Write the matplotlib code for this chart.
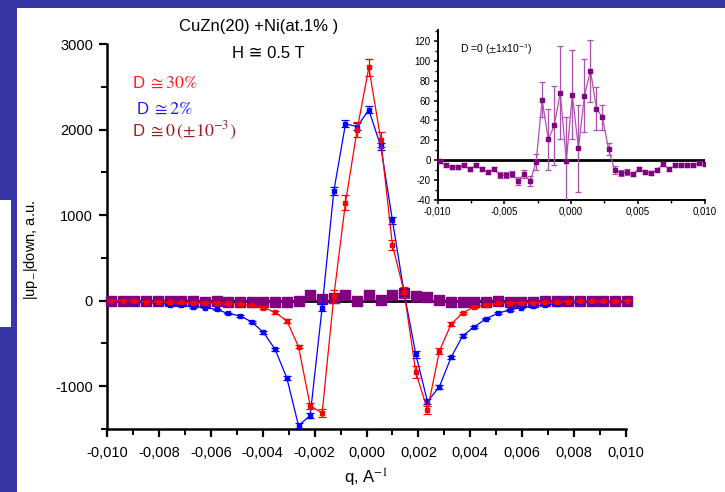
import matplotlib
matplotlib.use('Agg')
import matplotlib.pyplot as plt
from matplotlib.ticker import MultipleLocator, FuncFormatter
from matplotlib.patches import Rectangle

plt.rcParams['font.family'] = ['Liberation Sans', 'DejaVu Sans']
plt.rcParams['mathtext.fontset'] = 'stix'
plt.rcParams['axes.unicode_minus'] = False

# ---------------- data ----------------
q = [-0.00985, -0.00940, -0.00895, -0.00849, -0.00804, -0.00759, -0.00714, -0.00669,
     -0.00623, -0.00578, -0.00533, -0.00488, -0.00443, -0.00397, -0.00352, -0.00307,
     -0.00262, -0.00217, -0.00171, -0.00126, -0.00081, -0.00036, 0.00009, 0.00055,
     0.00100, 0.00145, 0.00190, 0.00235, 0.00281, 0.00326, 0.00371, 0.00416,
     0.00461, 0.00507, 0.00552, 0.00597, 0.00642, 0.00687, 0.00733, 0.00778,
     0.00823, 0.00868, 0.00913, 0.00959, 0.01004]

red_vals = [-2, -2, -6, -14, -14, -18, -18, -22, -26, -26, -33, -37, -56, -80, -138, -235,
            -538, -1227, -1315, 50, 1145, 2000, 2726, 1883, 647, 103, -837, -1277, -589, -274,
            -142, -72, -52, -33, -26, -26, -26, -18, -18, -14, -6, -6, -6, -6, -2]
red_err = [6, 6, 6, 6, 6, 6, 6, 6, 6, 6, 8, 8, 10, 15, 20, 25,
           20, 35, 45, 75, 90, 90, 100, 90, 60, 60, 70, 50, 30, 20,
           15, 10, 8, 8, 6, 6, 6, 6, 6, 6, 6, 6, 6, 6, 6]

blue_vals = [-5, -8, -12, -18, -30, -45, -56, -72, -80, -103, -150, -177, -247, -371, -570, -904,
             -1460, -1343, -80, 1280, 2066, 2035, 2230, 1802, 939, 91, -627, -1180, -1005, -662,
             -410, -305, -210, -146, -107, -80, -64, -48, -37, -28, -20, -15, -12, -8, -5]
blue_err = [6, 6, 6, 6, 6, 8, 8, 8, 8, 10, 10, 12, 12, 15, 20, 25,
            30, 30, 40, 50, 40, 40, 40, 40, 40, 40, 40, 30, 25, 20,
            15, 12, 10, 10, 8, 8, 8, 8, 6, 6, 6, 6, 6, 6, 6]

d0_vals = [-1, -5, -7, -7, -5, -9, -5, -9, -12, -9, -15, -15, -14, -21, -14, -21,
           -2, 61, 21, 35, 68, -1, 66, 12, 65, 90, 52, 43, 11, -10,
           -13, -12, -14, -9, -12, -13, -10, -4, -9, -5, -5, -5, -5, -3, -4]
d0_err = [2, 2, 2, 2, 2, 2, 2, 2, 2, 2, 3, 3, 3, 4, 4, 5,
          8, 18, 31, 40, 47, 44, 45, 44, 37, 31, 22, 13, 6, 4,
          3, 3, 2, 2, 2, 2, 2, 2, 2, 2, 2, 2, 2, 2, 2]

main_yticks = [-1000, 0, 1000, 2000, 3000]
main_xticks = [-0.010, -0.008, -0.006, -0.004, -0.002, 0.0, 0.002, 0.004, 0.006, 0.008, 0.010]
inset_xticks = [-0.010, -0.005, 0.0, 0.005, 0.010]
inset_yticks = [-40, -20, 0, 20, 40, 60, 80, 100, 120]

W, H = 725, 492
fig = plt.figure(figsize=(W / 100, H / 100), dpi=100)
fig.patch.set_facecolor('white')

BLUE_BG = '#3636a6'

def px_rect(x0, y0, x1, y1, color, z=-10):
    fig.add_artist(Rectangle((x0 / W, 1 - y1 / H), (x1 - x0) / W, (y1 - y0) / H,
                             transform=fig.transFigure, facecolor=color,
                             edgecolor='none', zorder=z))

px_rect(0, 0, W, 8, BLUE_BG)
px_rect(0, 0, 17, H, BLUE_BG)
px_rect(0, 200, 11, 327, 'white', z=-9)

def fmt_comma(v, pos):
    if abs(v) < 1e-12:
        v = 0.0
    return f"{v:.3f}".replace('.', ',')

# ---------------- main axes ----------------
ax = fig.add_axes([107 / W, 1 - 429 / H, 519 / W, 385 / H])
ax.set_facecolor('white')
ax.set_xlim(-0.010, 0.010)
ax.set_ylim(-1500, 3000)
for s in ['top', 'right']:
    ax.spines[s].set_visible(False)
for s in ['left', 'bottom']:
    ax.spines[s].set_linewidth(1.8)
ax.set_xticks(main_xticks)
ax.set_yticks(main_yticks)
ax.xaxis.set_minor_locator(MultipleLocator(0.001))
ax.yaxis.set_minor_locator(MultipleLocator(500))
ax.xaxis.set_major_formatter(FuncFormatter(fmt_comma))
ax.tick_params(which='major', direction='out', length=6, width=1.6, labelsize=10.5, pad=4)
ax.tick_params(which='minor', direction='out', length=4, width=1.4)
ax.tick_params(axis='x', which='major', pad=6)

ax.plot([-0.010, 0.010], [0, 0], color='black', lw=2.0, zorder=2)
ax.plot(q, d0_vals, 's', color='#800080', ms=7, ls='none', zorder=3, clip_on=False)
ax.errorbar(q, blue_vals, yerr=blue_err, fmt='-s', color='#0000ff', ms=3.5, lw=0.9,
            elinewidth=0.9, capsize=3, capthick=0.9, zorder=4, clip_on=False)
ax.errorbar(q, red_vals, yerr=red_err, fmt='-s', color='#ff0000', ms=3.5, lw=0.9,
            elinewidth=0.9, capsize=3, capthick=0.9, zorder=5, clip_on=False)

# axis labels
fig.text(31 / W, 1 - 250 / H, r'|up$_{-}$|down, a.u.', rotation=90, ha='center',
         va='center', fontsize=10.5)
fig.text(366 / W, 1 - 478 / H, r'q, A$^{-1}$', ha='center', va='center', fontsize=12)

# titles
fig.text(259 / W, 1 - 26 / H, 'CuZn(20) +Ni(at.1% )', ha='center', va='center', fontsize=12)
fig.text(268 / W, 1 - 54 / H, 'H \u2245 0.5 T', ha='center', va='center', fontsize=12)

# legend-like texts
leg = [
    (133, 83, '#ff1a1a', r'$\cong 30\%$'),
    (137, 109, '#1a1aff', r'$\cong 2\%$'),
    (133, 131, '#9b1c1c', r'$\cong 0\,(\pm 10^{-3})$'),
]
for x, y, c, t in leg:
    fig.text(x / W, 1 - y / H, 'D', ha='left', va='center', fontsize=12, color=c)
    fig.text((x + 15) / W, 1 - y / H, t, ha='left', va='center', fontsize=13, color=c)

# ---------------- inset ----------------
axin = fig.add_axes([437.6 / W, 1 - 200 / H, 267 / W, 170 / H])
axin.set_facecolor('white')
axin.set_xlim(-0.010, 0.010)
axin.set_ylim(-40, 131)
for s in ['top', 'right']:
    axin.spines[s].set_visible(False)
for s in ['left', 'bottom']:
    axin.spines[s].set_linewidth(1.4)
axin.set_xticks(inset_xticks)
axin.set_yticks(inset_yticks)
axin.xaxis.set_minor_locator(MultipleLocator(0.0025))
axin.yaxis.set_minor_locator(MultipleLocator(10))
axin.xaxis.set_major_formatter(FuncFormatter(fmt_comma))
axin.tick_params(which='major', direction='out', length=3, width=1.1, labelsize=7, pad=2)
axin.tick_params(which='minor', direction='out', length=2, width=1.0)

axin.plot([-0.010, 0.010], [0, 0], color='black', lw=2.0, zorder=2)
axin.errorbar(q, d0_vals, yerr=d0_err, fmt='-', color='#b050b0', lw=0.9,
              elinewidth=0.9, capsize=2, capthick=0.9, zorder=3)
axin.plot(q, d0_vals, 's', color='#800080', ms=3.2, ls='none', zorder=4)
fig.text(460 / W, 1 - 50 / H, r'D =0 ($\pm$1x10$^{-3}$)', ha='left', va='center',
         fontsize=7.5, family=['Liberation Sans', 'DejaVu Sans'])

fig.savefig('out.png', dpi=100)
